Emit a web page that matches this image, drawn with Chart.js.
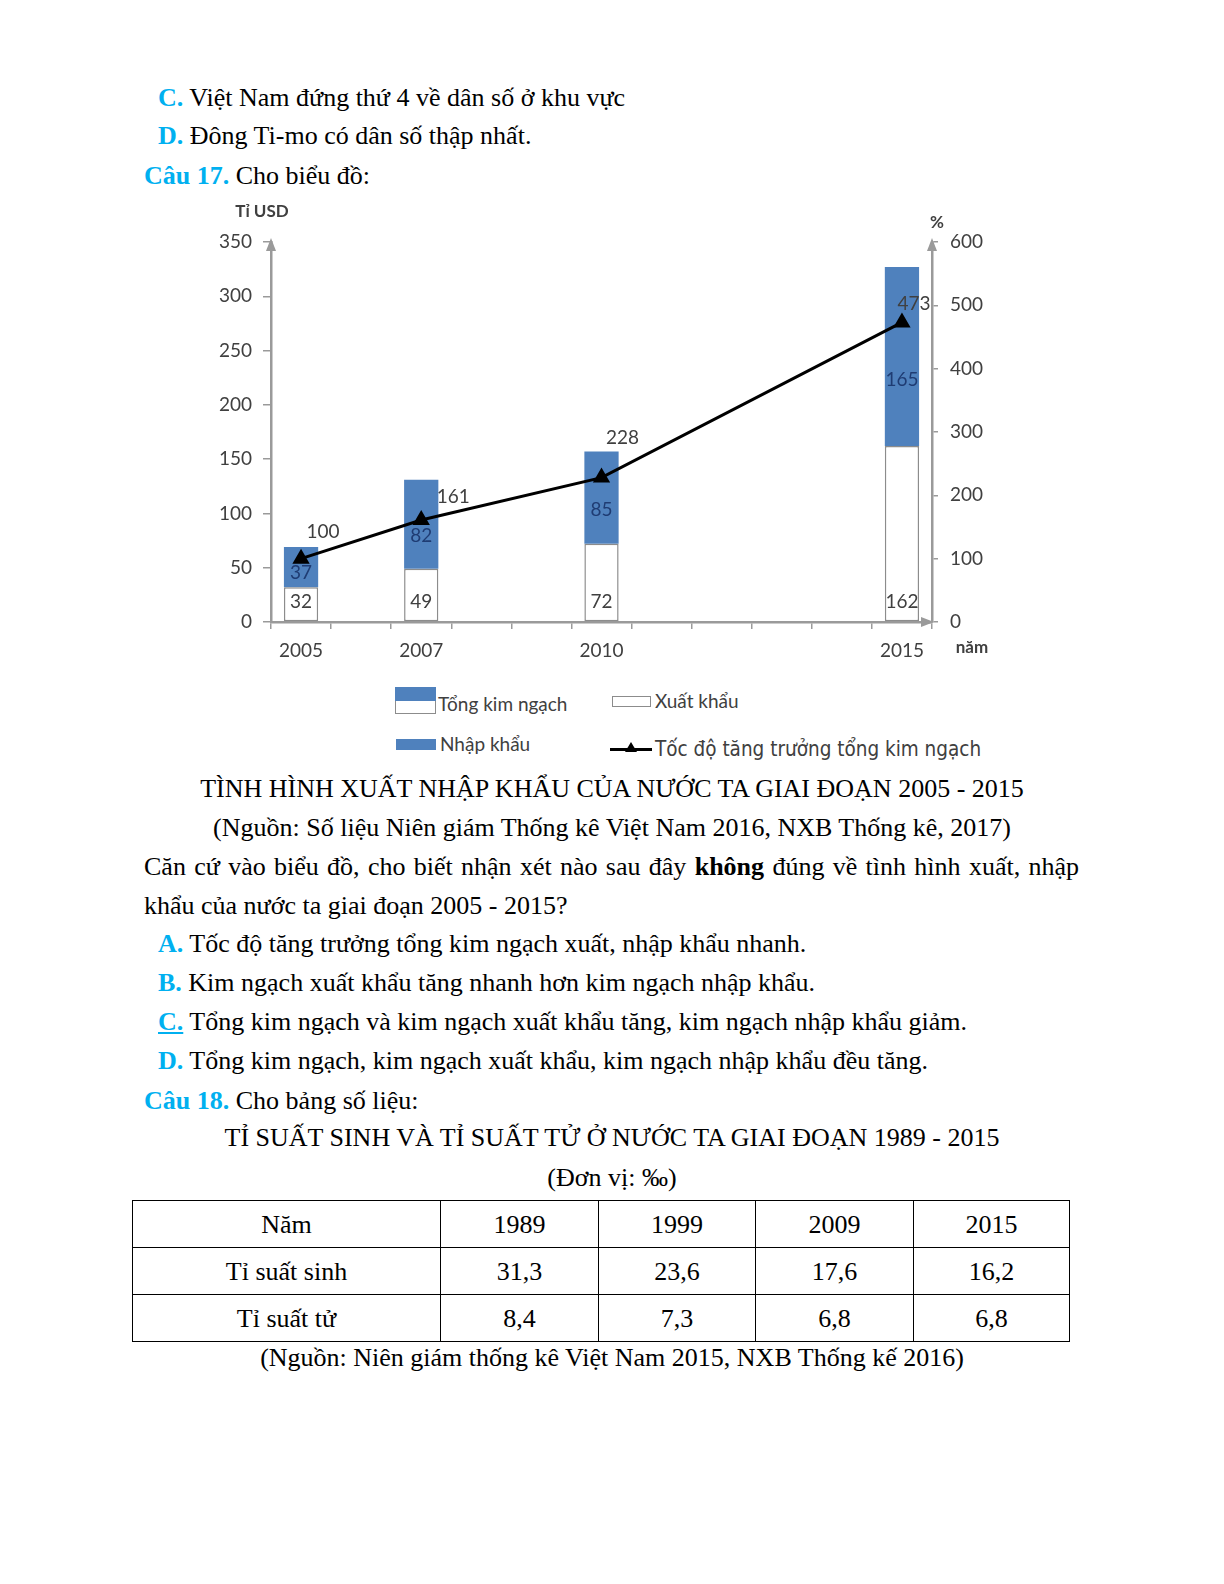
<!DOCTYPE html>
<html>
<head>
<meta charset="utf-8">
<script src="https://cdn.jsdelivr.net/npm/chart.js@4.4.0/dist/chart.umd.min.js"></script>
<style>
  body { margin:0; background:#fff; width:1224px; height:1584px; position:relative;
         font-family:"Liberation Serif","Times New Roman",serif; font-size:26px; color:#000; }
  .ln { position:absolute; line-height:32px; white-space:nowrap; margin-top:2px; }
  .c { left:0; width:1224px; text-align:center; }
  .b { color:#00b0f0; font-weight:bold; }
  .u { text-decoration:underline; }
  #chartBox { position:absolute; left:200px; top:190px; width:820px; height:470px; }
  .lg { position:absolute; font-family:Lato,sans-serif; font-size:19px; color:#404040; line-height:20px; white-space:nowrap; }
  .sw { position:absolute; box-sizing:border-box; }
  table { position:absolute; left:132px; top:1200px; border-collapse:collapse; }
  td { border:1.5px solid #000; height:47px; padding:2px 0 0 0; box-sizing:border-box; text-align:center; font-size:26px; }
</style>
</head>
<body>

<div class="ln" style="left:158px;top:80px"><span class="b">C.</span> Việt Nam đứng thứ 4 về dân số ở khu vực</div>
<div class="ln" style="left:158px;top:118px"><span class="b">D.</span> Đông Ti-mo có dân số thập nhất.</div>
<div class="ln" style="left:144px;top:158px"><span class="b">Câu 17.</span> Cho biểu đồ:</div>

<div id="chartBox"><canvas id="chart" width="820" height="470"></canvas></div>

<!-- legend -->
<div class="sw" style="left:395px;top:687px;width:41px;height:14px;background:#4f81bd"></div>
<div class="sw" style="left:395px;top:701px;width:41px;height:13px;background:#fff;border:1.5px solid #8c8c8c;border-top:none"></div>
<div class="lg" style="left:438px;top:694px">Tổng kim ngạch</div>
<div class="sw" style="left:612px;top:696px;width:39px;height:11px;background:#fff;border:1.5px solid #8c8c8c"></div>
<div class="lg" style="left:655px;top:691px">Xuất khẩu</div>
<div class="sw" style="left:396px;top:739px;width:40px;height:11px;background:#4f81bd"></div>
<div class="lg" style="left:440px;top:734px">Nhập khẩu</div>
<div class="sw" style="left:610px;top:748px;width:42px;height:3px;background:#000"></div>
<div class="sw" style="left:625px;top:742px;width:0;height:0;border-left:6px solid transparent;border-right:6px solid transparent;border-bottom:10px solid #000"></div>
<div class="lg" style="left:655px;top:737px;font-family:'Liberation Sans Narrow','DejaVu Sans Condensed',sans-serif;font-size:20.5px;line-height:24px">Tốc độ tăng trưởng tổng kim ngạch</div>

<div class="ln c" style="top:771px">TÌNH HÌNH XUẤT NHẬP KHẨU CỦA NƯỚC TA GIAI ĐOẠN 2005 - 2015</div>
<div class="ln c" style="top:810px">(Nguồn: Số liệu Niên giám Thống kê Việt Nam 2016, NXB Thống kê, 2017)</div>
<div class="ln" style="left:144px;top:849px;width:935px;text-align:justify;text-align-last:justify">Căn cứ vào biểu đồ, cho biết nhận xét nào sau đây <b>không</b> đúng về tình hình xuất, nhập</div>
<div class="ln" style="left:144px;top:888px">khẩu của nước ta giai đoạn 2005 - 2015?</div>
<div class="ln" style="left:158px;top:926px"><span class="b">A.</span> Tốc độ tăng trưởng tổng kim ngạch xuất, nhập khẩu nhanh.</div>
<div class="ln" style="left:158px;top:965px"><span class="b">B.</span> Kim ngạch xuất khẩu tăng nhanh hơn kim ngạch nhập khẩu.</div>
<div class="ln" style="left:158px;top:1004px"><span class="b u">C.</span> Tổng kim ngạch và kim ngạch xuất khẩu tăng, kim ngạch nhập khẩu giảm.</div>
<div class="ln" style="left:158px;top:1043px"><span class="b">D.</span> Tổng kim ngạch, kim ngạch xuất khẩu, kim ngạch nhập khẩu đều tăng.</div>
<div class="ln" style="left:144px;top:1083px"><span class="b">Câu 18.</span> Cho bảng số liệu:</div>
<div class="ln c" style="top:1120px">TỈ SUẤT SINH VÀ TỈ SUẤT TỬ Ở NƯỚC TA GIAI ĐOẠN 1989 - 2015</div>
<div class="ln c" style="top:1160px">(Đơn vị: ‰)</div>

<table>
  <tr><td style="width:308px">Năm</td><td style="width:158px">1989</td><td style="width:157px">1999</td><td style="width:158px">2009</td><td style="width:156px">2015</td></tr>
  <tr><td>Tỉ suất sinh</td><td>31,3</td><td>23,6</td><td>17,6</td><td>16,2</td></tr>
  <tr><td>Tỉ suất tử</td><td>8,4</td><td>7,3</td><td>6,8</td><td>6,8</td></tr>
</table>
<div class="ln c" style="top:1340px">(Nguồn: Niên giám thống kê Việt Nam 2015, NXB Thống kế 2016)</div>

<script>
/* ------------------------------
   DATA
------------------------------ */
const years = ['2005','2006','2007','2008','2009','2010','2011','2012','2013','2014','2015'];
const dataYears = ['2005','2007','2010','2015'];
const exportVals = [32, 49, 72, 162];     // Xuất khẩu (tỉ USD)
const importVals = [37, 82, 85, 165];     // Nhập khẩu (tỉ USD)
const growthVals = [100, 161, 228, 473];  // Tốc độ tăng trưởng (%)
const leftTicks = [0, 50, 100, 150, 200, 250, 300, 350];
const rightTicks = [0, 100, 200, 300, 400, 500, 600];

// spread the values over the yearly slots of the x axis
function onYears(vals) {
  return years.map(y => {
    const i = dataYears.indexOf(y);
    return i >= 0 ? vals[i] : null;
  });
}

const tickFont = { family: 'Lato', size: 19 };
const axisGray = '#9a9a9a';
const textGray = '#404040';

/* ------------------------------
   LABELS + ARROWS PLUGIN
------------------------------ */
const growthNudge = [[22, -27], [32, -23], [21, -40], [12, -19]];

const decorations = {
  id: 'decorations',
  afterDatasetsDraw(chart) {
    const { ctx, scales } = chart;
    const expMeta = chart.getDatasetMeta(0);
    const lineMeta = chart.getDatasetMeta(2);
    ctx.save();
    ctx.font = '19px Lato';
    ctx.textAlign = 'center';
    ctx.textBaseline = 'middle';
    dataYears.forEach((yr, k) => {
      const i = years.indexOf(yr);
      const x = expMeta.data[i].x;
      ctx.fillStyle = textGray;
      ctx.fillText(exportVals[k], x, scales.y.getPixelForValue(0) - 20);
      ctx.fillStyle = '#1f3c73';
      ctx.fillText(importVals[k], x, scales.y.getPixelForValue(exportVals[k] + importVals[k] * 0.37));
      const p = lineMeta.data[i];
      ctx.fillStyle = textGray;
      ctx.fillText(growthVals[k], p.x + growthNudge[k][0], p.y + growthNudge[k][1]);
    });
    ctx.restore();
  },
  afterDraw(chart) {
    const { ctx, chartArea: a } = chart;
    ctx.save();
    ctx.fillStyle = axisGray;
    const up = (x, y) => {
      ctx.beginPath();
      ctx.moveTo(x, y - 4); ctx.lineTo(x - 5, y + 9); ctx.lineTo(x + 5, y + 9); ctx.closePath(); ctx.fill();
    };
    up(a.left, a.top);
    up(a.right, a.top);
    ctx.beginPath();
    ctx.moveTo(a.right + 2, a.bottom); ctx.lineTo(a.right - 11, a.bottom - 5); ctx.lineTo(a.right - 11, a.bottom + 5);
    ctx.closePath(); ctx.fill();

    ctx.fillStyle = textGray;
    ctx.font = 'bold 17px Lato';
    ctx.textBaseline = 'middle';
    ctx.textAlign = 'center';
    ctx.fillText('Tỉ USD', a.left - 9, a.top - 30);
    ctx.fillText('%', a.right + 5, a.top - 19);
    ctx.fillText('năm', a.right + 40, a.bottom + 26);
    ctx.restore();
  }
};

/* ------------------------------
   CHART
------------------------------ */
new Chart(document.getElementById('chart'), {
  type: 'bar',
  data: {
    labels: years,
    datasets: [
      {
        label: 'Xuất khẩu',
        data: onYears(exportVals),
        backgroundColor: '#ffffff',
        borderColor: '#8c8c8c',
        borderWidth: 1.5,
        borderSkipped: false,
        barPercentage: 0.57,
        categoryPercentage: 1,
        order: 1
      },
      {
        label: 'Nhập khẩu',
        data: onYears(importVals),
        backgroundColor: '#4f81bd',
        borderWidth: 0,
        barPercentage: 0.57,
        categoryPercentage: 1,
        order: 1
      },
      {
        type: 'line',
        label: 'Tốc độ tăng trưởng tổng kim ngạch',
        data: onYears(growthVals),
        yAxisID: 'y1',
        spanGaps: true,
        borderColor: '#000',
        borderWidth: 3,
        pointStyle: 'triangle',
        pointRadius: 7,
        pointBackgroundColor: '#000',
        pointBorderColor: '#000',
        order: 0
      }
    ]
  },
  options: {
    responsive: false,
    animation: false,
    devicePixelRatio: 1,
    layout: { padding: { top: 52, left: 0, right: 0, bottom: 0 } },
    plugins: { legend: { display: false }, tooltip: { enabled: false } },
    scales: {
      x: {
        stacked: true,
        offset: true,
        grid: { offset: true, drawOnChartArea: false, tickLength: 7, color: axisGray, lineWidth: 1.5 },
        border: { color: axisGray, width: 2.5 },
        ticks: {
          autoSkip: false, maxRotation: 0, padding: 10,
          font: tickFont, color: textGray,
          callback: (v, i) => dataYears.includes(years[i]) ? years[i] : ''
        },
        afterFit: s => { s.height = 38; }
      },
      y: {
        stacked: true,
        position: 'left',
        min: 0, max: 350,
        afterBuildTicks: s => { s.ticks = leftTicks.map(v => ({ value: v })); },
        grid: { drawOnChartArea: false, tickLength: 8, color: axisGray, lineWidth: 1.5 },
        border: { color: axisGray, width: 2.5 },
        ticks: { padding: 11, font: tickFont, color: textGray },
        afterFit: s => { s.width = 71; }
      },
      y1: {
        stacked: false,
        position: 'right',
        min: 0, max: 600,
        afterBuildTicks: s => { s.ticks = rightTicks.map(v => ({ value: v })); },
        grid: { drawOnChartArea: false, tickLength: 6, color: axisGray, lineWidth: 1.5 },
        border: { color: axisGray, width: 2.5 },
        ticks: { padding: 12, font: tickFont, color: textGray },
        afterFit: s => { s.width = 88; }
      }
    }
  },
  plugins: [decorations]
});
</script>
</body>
</html>
